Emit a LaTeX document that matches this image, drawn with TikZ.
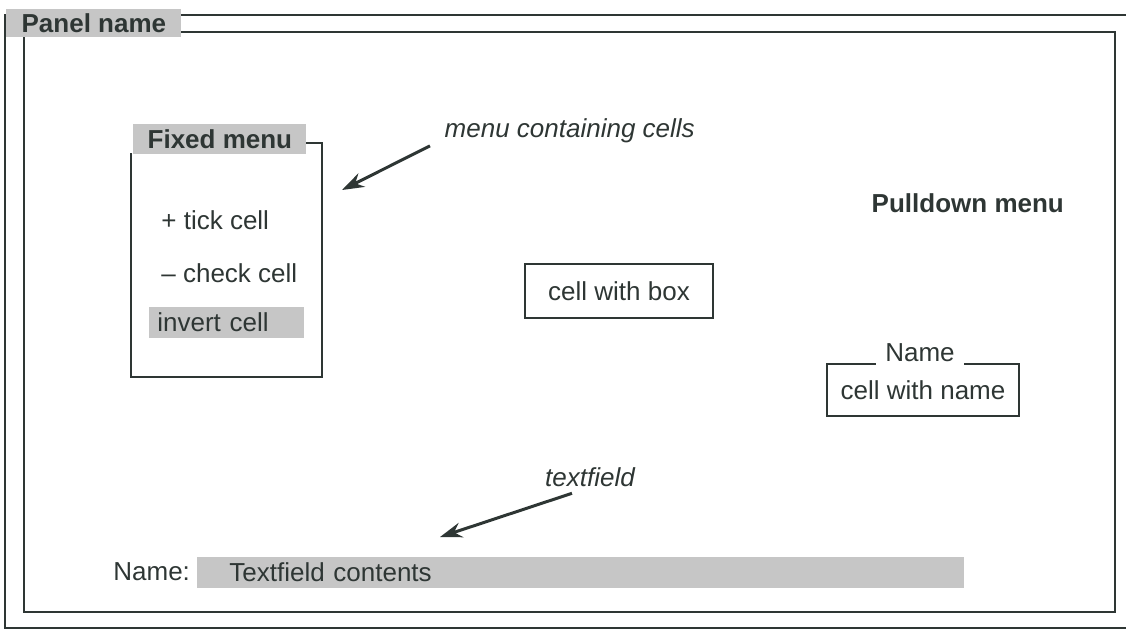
\documentclass[tikz,border=0pt]{standalone}
\usepackage{fontspec}
\setmainfont{Liberation Sans}
\usetikzlibrary{arrows.meta}
\definecolor{ink}{HTML}{2E3634}
\definecolor{stipple}{HTML}{C6C6C6}

\begin{document}
\begin{tikzpicture}[x=1pt, y=-1pt, line width=2.8pt, color=ink,
    font=\fontsize{26}{31}\selectfont,
    title/.style={fill=stipple, font=\fontsize{26}{31}\selectfont\bfseries, inner sep=0pt},
    note/.style={font=\fontsize{26}{31}\selectfont\itshape},
    pointer/.style={-{Stealth[length=22pt, width=15pt]}, line width=3pt}]
\useasboundingbox (0,0) rectangle (1126,630);

% Panel frame
\draw (1126,15) -- (5,15) -- (5,628) -- (1126,628);
\draw (24,32) rectangle (1115,612);
\node[title, anchor=north west, minimum width=175, minimum height=28] (panel) at (5,8) {Panel name};

% Fixed menu
\draw (305,143) -- (322,143) -- (322,377) -- (131,377) -- (131,153);
\node[title, anchor=north west, minimum width=173, minimum height=30] (fixed) at (132,123) {Fixed menu};
\foreach \y/\item in {220/{+ tick cell}, 273/{-- check cell}}
    \node[anchor=west, inner sep=0pt] (item\y) at (160,\y) {\item};
\node[fill=stipple, anchor=west, minimum height=31, text width=139, inner xsep=8, align=left] (invert) at (148,322) {invert cell};

% Annotation
\node[note, anchor=west] (menunote) at (440,131) {menu containing cells};
\coordinate (menutip) at (342,190);
\draw[pointer] ([xshift=-10pt,yshift=2pt]menunote.south west) -- (menutip);

% Pulldown menu
\node[font=\fontsize{26}{31}\selectfont\bfseries, anchor=west] (pulldown) at (867,203) {Pulldown menu};

% Cells
\node[draw, minimum width=188, minimum height=54] (boxcell) at (619,291) {cell with box};
\node[draw, minimum width=192, minimum height=52] (namecell) at (923,390) {cell with name};
\node[fill=white, anchor=base, inner xsep=9, inner ysep=4] (namelabel) at (920,361) {Name};

% Textfield
\node[note] (fieldnote) at (590,477) {textfield};
\coordinate (fieldtip) at (440,537);
\draw[pointer] ([xshift=-18pt,yshift=-2pt]fieldnote.south) -- (fieldtip);
\node[anchor=west, inner sep=0pt] (fieldname) at (112,572) {Name:};
\node[fill=stipple, anchor=west, minimum height=31, text width=703, inner xsep=32, align=left] (textfield) at (196,572) {Textfield contents};
\end{tikzpicture}
\end{document}
